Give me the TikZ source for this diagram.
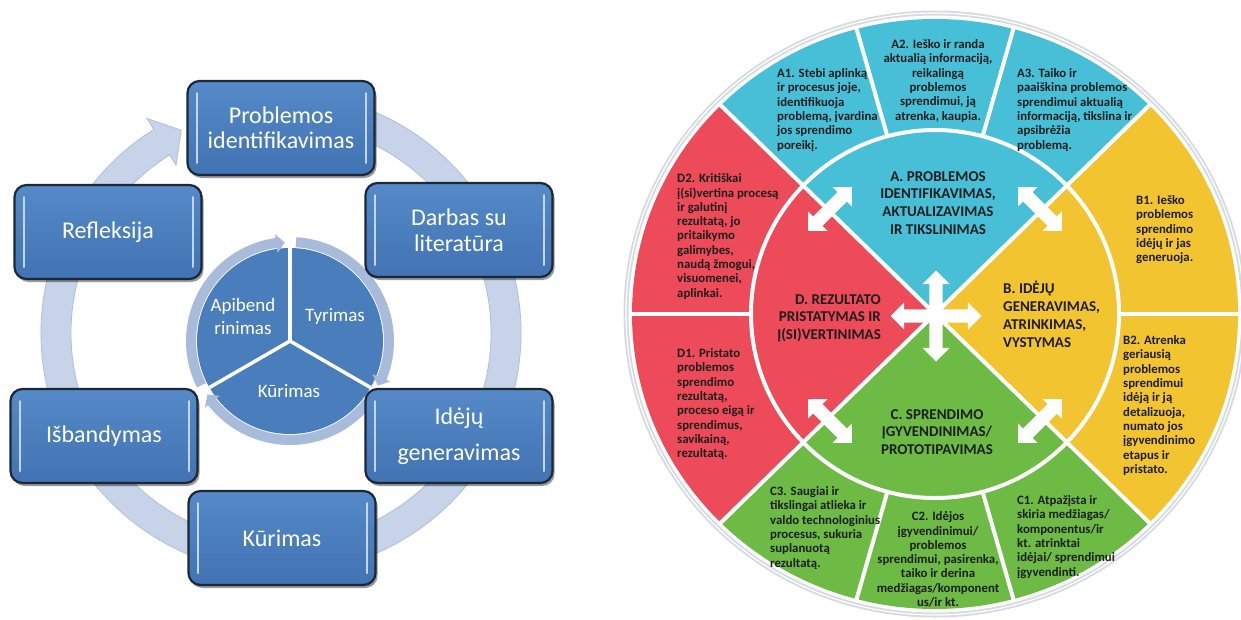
\documentclass[tikz,border=0pt]{standalone}
\usepackage{fontspec}
\setmainfont{Carlito}
\usetikzlibrary{shapes.arrows,shadows}
\definecolor{ringblue}{HTML}{C7D3E9}
\definecolor{ringedge}{HTML}{AFBFDB}
\definecolor{boxtop}{HTML}{5589C8}
\definecolor{boxbot}{HTML}{4273B2}
\definecolor{boxedge}{HTML}{1A2838}
\definecolor{boxhl}{HTML}{C4D6EF}
\definecolor{pieblue}{HTML}{4A7DBB}
\definecolor{piering}{HTML}{A8BBDB}
\definecolor{segA}{HTML}{47C0D7}
\definecolor{segB}{HTML}{F1C430}
\definecolor{segC}{HTML}{6DBA45}
\definecolor{segD}{HTML}{EE4B5A}
\definecolor{txtdark}{HTML}{1E1E1E}
\definecolor{rimgray}{HTML}{D6DBE1}
\begin{document}
\begin{tikzpicture}[x=1pt, y=-1pt,
  cyclebox/.style={rounded corners=12pt, minimum width=187pt, minimum height=94pt,
    draw=boxedge, line width=2.2pt, top color=boxtop, bottom color=boxbot,
    text=white, align=center, font=\fontsize{24}{25.5}\selectfont, inner sep=0pt,
    drop shadow={shadow xshift=2pt, shadow yshift=-3pt, opacity=0.4, fill=black},
    path picture={
      \draw[boxhl, line width=2pt, line cap=round]
        ([xshift=9pt,yshift=-12pt]path picture bounding box.north west) --
        ([xshift=9pt,yshift=12pt]path picture bounding box.south west);
      \draw[boxhl, line width=2pt, line cap=round]
        ([xshift=-9pt,yshift=-12pt]path picture bounding box.north east) --
        ([xshift=-9pt,yshift=12pt]path picture bounding box.south east);
    }},
  pietxt/.style={text=white, align=center, font=\fontsize{19}{23}\selectfont, inner sep=0pt},
  subtxt/.style={text=txtdark, align=left, font=\bfseries\fontsize{12.8}{14.3}\selectfont, inner sep=0pt},
  maintxt/.style={text=txtdark, align=center, font=\bfseries\fontsize{15}{17.8}\selectfont, inner sep=0pt},
  wline/.style={white, line width=4pt},
  dblarrow/.style={double arrow, fill=white, draw=none, inner sep=6.5pt,
    double arrow head extend=7pt, minimum height=62pt}
]
\useasboundingbox (0,0) rectangle (1241,619);
\fill[white] (0,0) rectangle (1241,619);

% ---------------- left cycle ----------------
\begin{scope}[shift={(281,333)}, yscale=-1]
  \filldraw[fill=ringblue, draw=ringedge, line width=0.8pt]
    (80:240) arc[start angle=80, end angle=-238, radius=240]
    -- (-238:253) -- (-243.8:226) -- (-238:198) -- (-238:210)
    arc[start angle=-238, end angle=80, radius=210] -- cycle;
\end{scope}

\begin{scope}[shift={(290,341)}, yscale=-1]
  \fill[pieblue] (0,0) circle[radius=93];
  \foreach \s in {86.5,-33.5,-153.5} {
    \fill[piering] (\s:104) arc[start angle=\s, end angle=\s-108.5, radius=104]
      -- (\s-108.5:108) -- (\s-113.5:98.5) -- (\s-108.5:89) -- (\s-108.5:94)
      arc[start angle=\s-108.5, end angle=\s, radius=94] -- cycle;
  }
  \foreach \a in {90,210,330} {
    \draw[white, line width=3.5pt] (0,0) -- (\a:93);
  }
\end{scope}

\node[pietxt] (apib) at (243,316) {Apibend\\rinimas};
\node[pietxt] (tyr) at (335,316) {Tyrimas};
\node[pietxt] (kur2) at (289,391) {Kūrimas};

\node[cyclebox] (prob) at (281,128) {Problemos\\identifikavimas};
\node[cyclebox] (darb) at (459,230) {Darbas su\\literatūra};
\node[cyclebox] (idej) at (459,436) {Idėjų\\[11pt]generavimas};
\node[cyclebox] (kur) at (282,538) {Kūrimas};
\node[cyclebox] (isb) at (104,436) {Išbandymas};
\node[cyclebox] (refl) at (108,232) {Refleksija};

% ---------------- right wheel ----------------
\begin{scope}[shift={(935,314)}, yscale=-1]
  \draw[rimgray, line width=5pt] (0,0) ellipse[x radius=309, y radius=301];
  \draw[white, line width=1.2pt] (0,0) ellipse[x radius=309, y radius=301];
  \fill[segA] (0,0) -- (45:303 and 295) arc[start angle=45, end angle=135, x radius=303, y radius=295] -- cycle;
  \fill[segB] (0,0) -- (-45:303 and 295) arc[start angle=-45, end angle=45, x radius=303, y radius=295] -- cycle;
  \fill[segC] (0,0) -- (225:303 and 295) arc[start angle=225, end angle=315, x radius=303, y radius=295] -- cycle;
  \fill[segD] (0,0) -- (135:303 and 295) arc[start angle=135, end angle=225, x radius=303, y radius=295] -- cycle;
  \foreach \a in {45,135,225,315} {
    \draw[wline] (0,0) -- (\a:306 and 298);
  }
  \draw[wline] (0,0) circle[radius=184];
  \foreach \a in {75,105,0,180,255,285} {
    \draw[wline] (\a:184) -- (\a:306 and 298);
  }
\end{scope}

\node[dblarrow, minimum height=91pt] (crossh) at (936,316) {};
\node[dblarrow, minimum height=91pt, rotate=90] (crossv) at (936,316) {};
\node[dblarrow, rotate=45] (ad) at (830,209) {};
\node[dblarrow, rotate=-45] (ab) at (1040,209) {};
\node[dblarrow, rotate=45] (bc) at (1040,421) {};
\node[dblarrow, rotate=-45] (dc) at (830,421) {};

% main labels
\node[maintxt, anchor=north] (labA) at (938,171) {A. PROBLEMOS\\IDENTIFIKAVIMAS,\\AKTUALIZAVIMAS\\IR TIKSLINIMAS};
\node[maintxt, anchor=north west, align=left] (labB) at (1003,281) {B. IDĖJŲ\\GENERAVIMAS,\\ATRINKIMAS,\\VYSTYMAS};
\node[maintxt, anchor=north] (labC) at (937,409) {C. SPRENDIMO\\ĮGYVENDINIMAS/\\PROTOTIPAVIMAS};
\node[maintxt, anchor=north east, align=right] (labD) at (881,294) {D. REZULTATO\\PRISTATYMAS IR\\Į(SI)VERTINIMAS};

% sub labels
\node[subtxt, anchor=north west] (a1) at (777,68.5) {A1. Stebi aplinką\\ir procesus joje,\\identifikuoja\\problemą, įvardina\\jos sprendimo\\poreikį.};
\node[subtxt, anchor=north, align=center] (a2) at (938,39.5) {A2. Ieško ir randa\\aktualią informaciją,\\reikalingą\\problemos\\sprendimui, ją\\atrenka, kaupia.};
\node[subtxt, anchor=north west] (a3) at (1017,68.5) {A3. Taiko ir\\paaiškina problemos\\sprendimui aktualią\\informaciją, tikslina ir\\apsibrėžia\\problemą.};
\node[subtxt, anchor=north west] (b1) at (1136,195.5) {B1. Ieško\\problemos\\sprendimo\\idėjų ir jas\\generuoja.};
\node[subtxt, anchor=north west] (b2) at (1123,335.5) {B2. Atrenka\\geriausią\\problemos\\sprendimui\\idėją ir ją\\detalizuoja,\\numato jos\\įgyvendinimo\\etapus ir\\pristato.};
\node[subtxt, anchor=north west] (c1) at (1017,495.5) {C1. Atpažįsta ir\\skiria medžiagas/\\komponentus/ir\\kt. atrinktai\\idėjai/ sprendimui\\įgyvendinti.};
\node[subtxt, anchor=north, align=center] (c2) at (938,511.5) {C2. Idėjos\\įgyvendinimui/\\problemos\\sprendimui, pasirenka,\\taiko ir derina\\medžiagas/komponent\\us/ir kt.};
\node[subtxt, anchor=north west] (c3) at (770,486.5) {C3. Saugiai ir\\tikslingai atlieka ir\\valdo technologinius\\procesus, sukuria\\suplanuotą\\rezultatą.};
\node[subtxt, anchor=north west] (d1) at (677,348.5) {D1. Pristato\\problemos\\sprendimo\\rezultatą,\\proceso eigą ir\\sprendimus,\\savikainą,\\rezultatą.};
\node[subtxt, anchor=north west] (d2) at (677,173.5) {D2. Kritiškai\\į(si)vertina procesą\\ir galutinį\\rezultatą, jo\\pritaikymo\\galimybes,\\naudą žmogui,\\visuomenei,\\aplinkai.};
\end{tikzpicture}
\end{document}
